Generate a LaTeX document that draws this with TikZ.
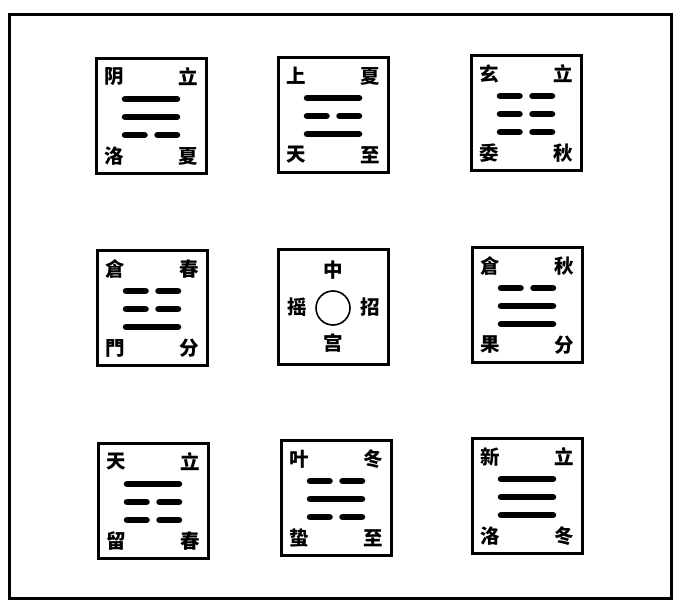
\documentclass[tikz,border=0pt]{standalone}
\usepackage{fontspec}
\newfontfamily\cjk{Noto Sans CJK SC}
\usetikzlibrary{calc}
\tikzset{
  palace/.style={draw=black, line width=3pt, minimum width=110pt, minimum height=115pt, inner sep=0pt, fill=white},
  yaoline/.style={line width=6.5pt, line cap=round, black},
  hz/.style={font=\cjk\bfseries\fontsize{19.5}{19.5}\selectfont, inner sep=0pt},
  frame/.style={draw=black, line width=3pt}
}
\newcommand\yaoat[3]{%
  \ifnum#3=1
    \draw[yaoline] ($(#1)+(-26,#2)$) -- ($(#1)+(26,#2)$);
  \else
    \draw[yaoline] ($(#1)+(-26,#2)$) -- ($(#1)+(-6.5,#2)$);
    \draw[yaoline] ($(#1)+(6.5,#2)$) -- ($(#1)+(26,#2)$);
  \fi}
\newcommand\trigram[4]{\yaoat{#1}{-17}{#2}\yaoat{#1}{1}{#3}\yaoat{#1}{19}{#4}}
\newcommand\corners[5]{%
  \node[hz] at ($(#1)+(-37,-39)$) {#2};
  \node[hz] at ($(#1)+(37,-39)$) {#3};
  \node[hz] at ($(#1)+(-37,40)$) {#4};
  \node[hz] at ($(#1)+(37,40)$) {#5};}
\begin{document}
\begin{tikzpicture}[x=1pt,y=-1pt]
\useasboundingbox (0,0) rectangle (674,601);
\fill[white] (0,0) rectangle (674,601);
\draw[frame] (9,15) rectangle (671,598);
% row 1
\node[palace] (xun) at (151,116) {};
\node[palace] (li) at (333,115) {};
\node[palace] (kun) at (526,113) {};
% row 2
\node[palace] (zhen) at (152,308) {};
\node[palace] (zhong) at (333,307) {};
\node[palace] (dui) at (527,305) {};
% row 3
\node[palace] (gen) at (153,501) {};
\node[palace] (kan) at (336,498) {};
\node[palace] (qian) at (527,496) {};
% trigrams (top, middle, bottom): 1 solid, 0 broken
\trigram{xun}{1}{1}{0}
\trigram{li}{1}{0}{1}
\trigram{kun}{0}{0}{0}
\trigram{zhen}{0}{0}{1}
\trigram{dui}{0}{1}{1}
\trigram{gen}{1}{0}{0}
\trigram{kan}{0}{1}{0}
\trigram{qian}{1}{1}{1}
% labels
\corners{xun}{阴}{立}{洛}{夏}
\corners{li}{上}{夏}{天}{至}
\corners{kun}{玄}{立}{委}{秋}
\corners{zhen}{倉}{春}{門}{分}
\corners{dui}{倉}{秋}{果}{分}
\corners{gen}{天}{立}{留}{春}
\corners{kan}{叶}{冬}{蛰}{至}
\corners{qian}{新}{立}{洛}{冬}
% centre palace
\node[circle, draw=black, line width=1.6pt, minimum size=34pt, inner sep=0pt] (taiyi) at ($(zhong)+(0,1)$) {};
\node[hz] (zh) at ($(zhong)+(0,-37)$) {中};
\node[hz] (gong) at ($(zhong)+(0,36)$) {宫};
\node[hz] (yao) at ($(zhong)+(-36,0)$) {摇};
\node[hz] (zhao) at ($(zhong)+(37,0)$) {招};
\end{tikzpicture}
\end{document}
